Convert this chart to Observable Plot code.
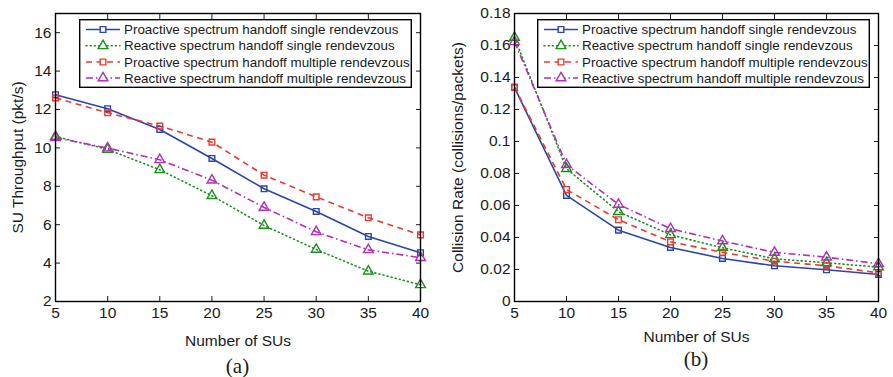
<!DOCTYPE html>
<html>
<head>
<meta charset="utf-8">
<script src="https://cdn.jsdelivr.net/npm/d3@7"></script>
<script src="https://cdn.jsdelivr.net/npm/@observablehq/plot@0.6"></script>
<style>
  body { margin: 0; background: #fff; font-family: "Liberation Sans", Arial, sans-serif; }
  #wrap { display: flex; width: 893px; height: 377px; overflow: hidden; }
  .panel { position: relative; height: 377px; }
  .legend { position: absolute; top: 19px; display: block; }
  .caption { position: absolute; font-family: "Liberation Serif", "Times New Roman", serif; font-size: 21px; color: #1a1a1a;
             transform: translate(-50%, -50%); line-height: 1; }
</style>
</head>
<body>
<div id="wrap"></div>
<script>
const nSUs = [5, 10, 15, 20, 25, 30, 35, 40];
const seriesNames = [
  "Proactive spectrum handoff single rendevzous",
  "Reactive spectrum handoff single rendevzous",
  "Proactive spectrum handoff multiple rendevzous",
  "Reactive spectrum handoff multiple rendevzous"
];
const seriesColors = ["#2b45a8", "#17921a", "#ea3a30", "#b22fb5"];
const seriesDash = [null, "1,3.2", "6,4.5", "7,3,1.5,3"];
const seriesSymbols = ["square", "triangle", "square", "triangle"];

// (a) SU Throughput (pkt/s)
const thrProSingle = [12.77, 12.04, 10.96, 9.45, 7.87, 6.69, 5.39, 4.54];
const thrReSingle  = [10.60, 9.92, 8.86, 7.51, 5.96, 4.71, 3.58, 2.87];
const thrProMulti  = [12.60, 11.83, 11.14, 10.30, 8.58, 7.45, 6.36, 5.47];
const thrReMulti   = [10.53, 9.99, 9.38, 8.32, 6.90, 5.63, 4.69, 4.28];
const thrTicks = [2, 4, 6, 8, 10, 12, 14, 16];

// (b) Collision Rate (collisions/packets)
const colProSingle = [0.1337, 0.0663, 0.0446, 0.0338, 0.0269, 0.0223, 0.0198, 0.0169];
const colReSingle  = [0.1650, 0.0830, 0.0561, 0.0417, 0.0336, 0.0267, 0.0242, 0.0215];
const colProMulti  = [0.1340, 0.0700, 0.0511, 0.0373, 0.0307, 0.0252, 0.0223, 0.0179];
const colReMulti   = [0.1623, 0.0855, 0.0607, 0.0455, 0.0378, 0.0307, 0.0277, 0.0236];
const colTicks = [0, 0.02, 0.04, 0.06, 0.08, 0.1, 0.12, 0.14, 0.16, 0.18];

function toRows(arrays) {
  const rows = [];
  arrays.forEach((vals, si) => vals.forEach((v, i) => rows.push({x: nSUs[i], y: v, s: si})));
  return rows;
}

const FS = 15.5;

function makeLegend(left) {
  const ns = "http://www.w3.org/2000/svg";
  const W = 333, H = 69;
  const svg = document.createElementNS(ns, "svg");
  svg.setAttribute("class", "legend");
  svg.setAttribute("width", W); svg.setAttribute("height", H);
  svg.style.left = left + "px";
  const rect = document.createElementNS(ns, "rect");
  rect.setAttribute("x", 0.7); rect.setAttribute("y", 0.7);
  rect.setAttribute("width", W - 1.4); rect.setAttribute("height", H - 1.4);
  rect.setAttribute("fill", "#fff"); rect.setAttribute("stroke", "#000"); rect.setAttribute("stroke-width", 1.4);
  svg.appendChild(rect);
  const rowY = [10.5, 26.8, 43, 59];
  seriesNames.forEach((name, si) => {
    const y = rowY[si];
    const ln = document.createElementNS(ns, "line");
    ln.setAttribute("x1", 7); ln.setAttribute("x2", 41); ln.setAttribute("y1", y); ln.setAttribute("y2", y);
    ln.setAttribute("stroke", seriesColors[si]); ln.setAttribute("stroke-width", 1.6);
    if (seriesDash[si]) ln.setAttribute("stroke-dasharray", seriesDash[si]);
    if (si === 1) ln.setAttribute("stroke-linecap", "round");
    svg.appendChild(ln);
    const sym = document.createElementNS(ns, "path");
    const size = seriesSymbols[si] === "square" ? Math.PI * 3.2 * 3.2 : Math.PI * 3.6 * 3.6;
    sym.setAttribute("d", d3.symbol(seriesSymbols[si] === "square" ? d3.symbolSquare : d3.symbolTriangle, size)());
    sym.setAttribute("transform", `translate(24,${y})`);
    sym.setAttribute("fill", "#fff"); sym.setAttribute("stroke", seriesColors[si]); sym.setAttribute("stroke-width", 1.4);
    svg.appendChild(sym);
    const t = document.createElementNS(ns, "text");
    t.setAttribute("x", 45); t.setAttribute("y", y);
    t.setAttribute("dy", "0.35em");
    t.setAttribute("font-family", "Liberation Sans, Arial, sans-serif");
    t.setAttribute("font-size", 13.4);
    t.setAttribute("fill", "#1a1a1a");
    t.textContent = name;
    svg.appendChild(t);
  });
  return svg;
}

function makePanel({width, marginLeft, marginRight, arrays, yDomain, yTicks, yLabel, yLabelOffset, yFmt, xLabelOffset, legendLeft, caption, captionY}) {
  const rows = toRows(arrays);
  const marks = [];
  seriesNames.forEach((name, si) => {
    const d = rows.filter(r => r.s === si);
    marks.push(Plot.line(d, {x: "x", y: "y", stroke: seriesColors[si], strokeWidth: 1.6,
      strokeDasharray: seriesDash[si], strokeLinecap: si === 1 ? "round" : "butt"}));
  });
  seriesNames.forEach((name, si) => {
    const d = rows.filter(r => r.s === si);
    marks.push(Plot.dot(d, {x: "x", y: "y", stroke: seriesColors[si], fill: "none", strokeWidth: 1.4,
      symbol: seriesSymbols[si], r: seriesSymbols[si] === "square" ? 3.2 : 3.6}));
  });
  const chart = Plot.plot({
    width, height: 377,
    marginTop: 13, marginBottom: 76, marginLeft, marginRight,
    style: {fontFamily: "Liberation Sans, Arial, sans-serif", fontSize: FS + "px", color: "#1a1a1a", background: "#fff"},
    x: {domain: [5, 40]},
    y: {domain: yDomain},
    marks: [
      Plot.axisX(nSUs, {anchor: "bottom", tickSize: -5, tickPadding: 10, fontSize: FS, label: "Number of SUs",
        labelAnchor: "center", labelArrow: "none", labelOffset: xLabelOffset}),
      Plot.axisX(nSUs, {anchor: "top", tickSize: -5, tickFormat: () => "", label: null}),
      Plot.axisY(yTicks, {anchor: "left", tickSize: -5, tickPadding: 9, fontSize: FS, tickFormat: yFmt, label: yLabel,
        labelAnchor: "center", labelArrow: "none", labelOffset: yLabelOffset}),
      Plot.axisY(yTicks, {anchor: "right", tickSize: -5, tickFormat: () => "", label: null}),
      ...marks,
      Plot.frame({stroke: "#000", strokeWidth: 1.4})
    ]
  });
  const panel = document.createElement("div");
  panel.className = "panel";
  panel.style.width = width + "px";
  panel.appendChild(chart);
  panel.appendChild(makeLegend(legendLeft));

  const cap = document.createElement("div");
  cap.className = "caption";
  cap.textContent = caption;
  cap.style.left = (marginLeft + (width - marginLeft - marginRight) / 2) + "px";
  cap.style.top = captionY + "px";
  panel.appendChild(cap);
  return panel;
}

const wrap = document.getElementById("wrap");
wrap.appendChild(makePanel({
  width: 446, marginLeft: 55, marginRight: 26,
  arrays: [thrProSingle, thrReSingle, thrProMulti, thrReMulti],
  yDomain: [2, 17], yTicks: thrTicks, yLabel: "SU Throughput (pkt/s)", yLabelOffset: 44,
  yFmt: d => String(d), xLabelOffset: 44, legendLeft: 79, caption: "(a)", captionY: 366
}));
wrap.appendChild(makePanel({
  width: 447, marginLeft: 68, marginRight: 15,
  arrays: [colProSingle, colReSingle, colProMulti, colReMulti],
  yDomain: [0, 0.18], yTicks: colTicks, yLabel: "Collision Rate (collisions/packets)", yLabelOffset: 63,
  yFmt: d => d === 0 ? "0" : String(+d.toFixed(2)), xLabelOffset: 40, legendLeft: 91, caption: "(b)", captionY: 359
}));
</script>
</body>
</html>
